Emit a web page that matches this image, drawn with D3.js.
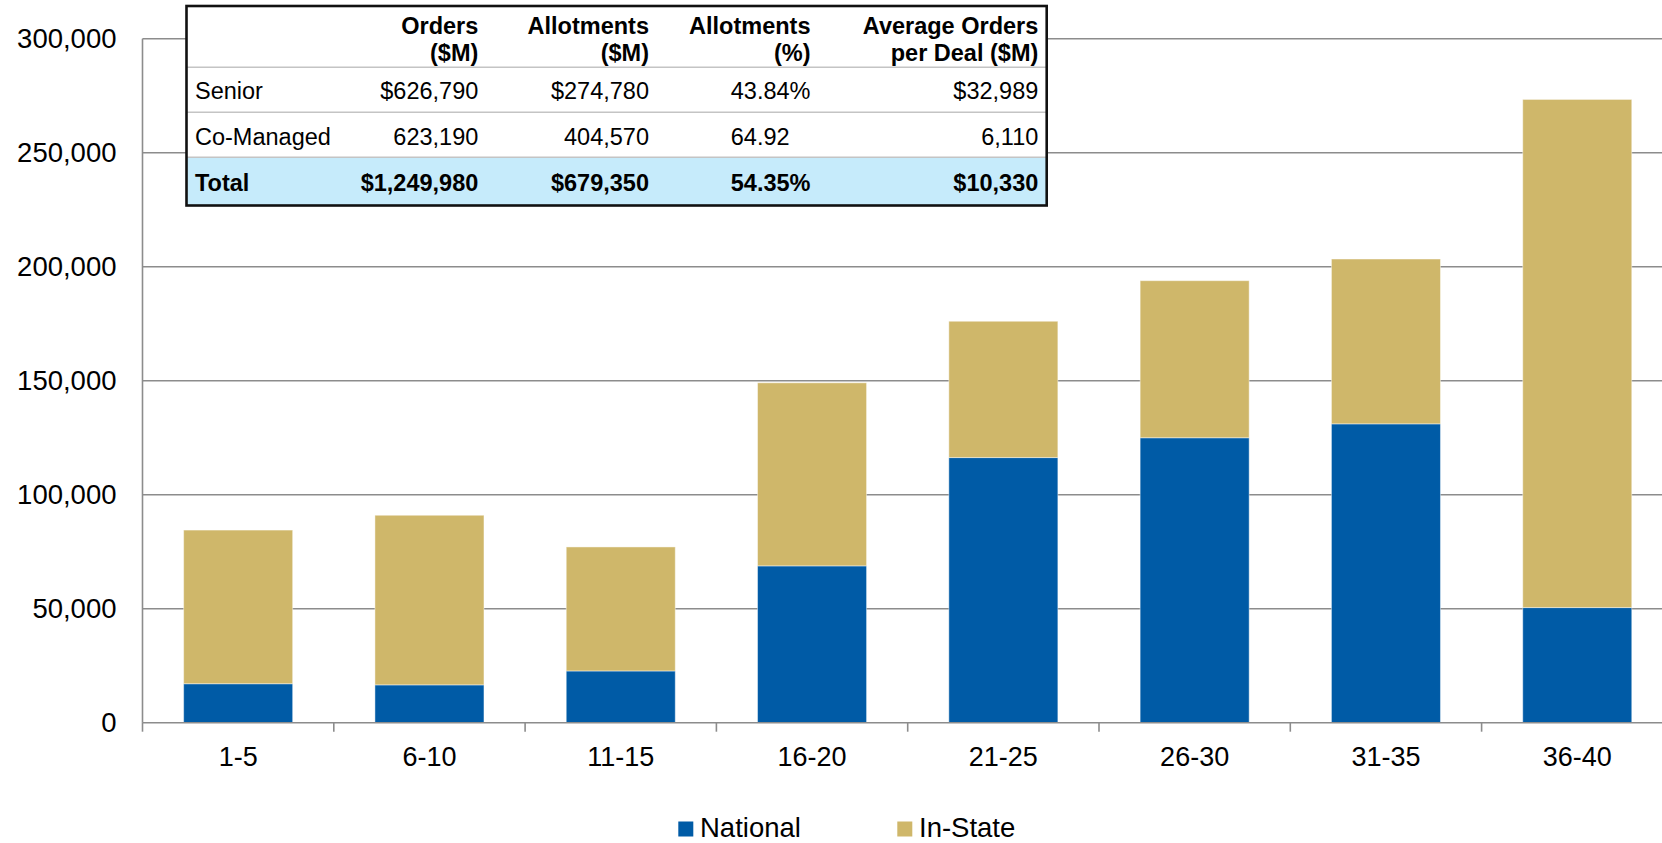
<!DOCTYPE html>
<html>
<head>
<meta charset="utf-8">
<script src="https://cdn.jsdelivr.net/npm/d3@7"></script>
<style>
  body { margin: 0; background: #fff; }
  svg { display: block; font-family: "Liberation Sans", Arial, Helvetica, sans-serif; }
</style>
</head>
<body>
<svg id="chart" width="1662" height="843"></svg>
<script>
// Deal-size buckets and stacked order amounts
const categories = ["1-5", "6-10", "11-15", "16-20", "21-25", "26-30", "31-35", "36-40"];
const national   = [17100, 16600, 22700, 68800, 116300, 125000, 131100, 50500];
const inState    = [67400, 74400, 54400, 80300, 59800, 68900, 72300, 222900];
const seriesNames = ["National", "In-State"];
const seriesColors = ["#005BA6", "#CFB76A"];
const yTicks = [0, 50000, 100000, 150000, 200000, 250000, 300000];

// Summary table
const tableHeader = [["Orders", "($M)"], ["Allotments", "($M)"], ["Allotments", "(%)"], ["Average Orders", "per Deal ($M)"]];
const tableRowLabels = ["Senior", "Co-Managed", "Total"];
const tableSenior = ["$626,790", "$274,780", "43.84%", "$32,989"];
const tableCoManaged = ["623,190", "404,570", "64.92", "6,110"];
const tableTotal = ["$1,249,980", "$679,350", "54.35%", "$10,330"];

(function draw() {
  const svg = d3.select("#chart");
  const plotLeft = 142.5, plotBottom = 722.7, plotTop = 38.8, plotRight = 1662;

  const x = d3.scaleBand().domain(categories).range([plotLeft, 1672.9]).paddingInner(0.43).paddingOuter(0.215);
  const y = d3.scaleLinear().domain([0, 300000]).range([plotBottom, plotTop]);

  const rows = categories.map((c, i) => ({ cat: c, National: national[i], "In-State": inState[i] }));
  const stacked = d3.stack().keys(seriesNames)(rows);

  // Gridlines
  svg.append("g").selectAll("line").data(yTicks.filter(d => d > 0)).join("line")
    .attr("x1", plotLeft).attr("x2", plotRight)
    .attr("y1", d => y(d)).attr("y2", d => y(d))
    .attr("stroke", "#8c8c8c").attr("stroke-width", 1.6);

  // Bars
  svg.append("g").selectAll("g").data(stacked).join("g")
    .attr("fill", (d, i) => seriesColors[i])
    .selectAll("rect").data(d => d).join("rect")
    .attr("x", d => x(d.data.cat))
    .attr("width", x.bandwidth())
    .attr("y", d => y(d[1]))
    .attr("height", d => y(d[0]) - y(d[1]))
    .attr("stroke", "rgba(255,255,255,0.45)")
    .attr("stroke-width", 1);

  // Y axis labels
  const yAxis = svg.append("g").attr("transform", `translate(${plotLeft},0)`)
    .call(d3.axisLeft(y).tickValues(yTicks).tickSize(0).tickPadding(26).tickFormat(d3.format(",")));
  yAxis.select(".domain").remove();
  yAxis.selectAll("text").attr("font-size", 27.5).attr("fill", "#000")
    .attr("font-family", "'Liberation Sans', Arial, sans-serif");

  // Axis lines
  svg.append("line").attr("x1", plotLeft).attr("x2", plotLeft).attr("y1", plotTop).attr("y2", plotBottom)
    .attr("stroke", "#8c8c8c").attr("stroke-width", 1.6);
  svg.append("line").attr("x1", plotLeft).attr("x2", plotRight).attr("y1", plotBottom).attr("y2", plotBottom)
    .attr("stroke", "#8c8c8c").attr("stroke-width", 1.6);

  // Category boundary ticks
  const step = x.step();
  const boundaries = d3.range(categories.length + 1).map(i => plotLeft + i * step);
  svg.append("g").selectAll("line").data(boundaries).join("line")
    .attr("x1", d => d).attr("x2", d => d).attr("y1", plotBottom).attr("y2", plotBottom + 9)
    .attr("stroke", "#8c8c8c").attr("stroke-width", 1.6);

  // X axis labels
  const xAxis = svg.append("g").attr("transform", `translate(0,${plotBottom})`)
    .call(d3.axisBottom(x).tickSize(0).tickPadding(24));
  xAxis.select(".domain").remove();
  xAxis.selectAll("text").attr("font-size", 27).attr("fill", "#000")
    .attr("font-family", "'Liberation Sans', Arial, sans-serif");

  // Legend
  const legendX = [678.3, 897.3];
  const legend = svg.append("g").selectAll("g").data(seriesNames).join("g")
    .attr("transform", (d, i) => `translate(${legendX[i]},821.5)`);
  legend.append("rect").attr("width", 15).attr("height", 15).attr("fill", (d, i) => seriesColors[i]);
  legend.append("text").attr("x", 21.7).attr("y", 15.2).attr("font-size", 27.5).attr("fill", "#000").text(d => d);

  // Summary table
  const tX = 186.5, tY = 6, tW = 860.2, tH = 199.5;
  const rowLines = [67.3, 112.3, 157.3];
  const colRight = [478.3, 649, 810.5, 1038.3];
  const table = svg.append("g");
  table.append("rect").attr("x", tX).attr("y", tY).attr("width", tW).attr("height", tH).attr("fill", "#fff");
  table.append("rect").attr("x", tX).attr("y", rowLines[2]).attr("width", tW).attr("height", tY + tH - rowLines[2])
    .attr("fill", "#C6EBFB");
  table.selectAll("line.row").data(rowLines).join("line").attr("class", "row")
    .attr("x1", tX).attr("x2", tX + tW).attr("y1", d => d).attr("y2", d => d)
    .attr("stroke", "#c4c4c4").attr("stroke-width", 1.5);
  table.append("rect").attr("x", tX).attr("y", tY).attr("width", tW).attr("height", tH)
    .attr("fill", "none").attr("stroke", "#111").attr("stroke-width", 2.6);

  const tFont = 23.5;
  // Header (two lines, right aligned, bold)
  tableHeader.forEach((lines, c) => {
    lines.forEach((t, j) => {
      table.append("text").attr("x", colRight[c]).attr("y", 34 + j * 26.7)
        .attr("text-anchor", "end").attr("font-size", tFont).attr("font-weight", "bold")
        .attr("fill", "#000").text(t);
    });
  });

  const bodyRows = [tableSenior, tableCoManaged, tableTotal];
  const baselines = [99.3, 145, 190.7];
  bodyRows.forEach((vals, r) => {
    const bold = r === 2 ? "bold" : "normal";
    table.append("text").attr("x", 195).attr("y", baselines[r]).attr("font-size", tFont)
      .attr("font-weight", bold).attr("fill", "#000").text(tableRowLabels[r]);
    vals.forEach((v, c) => {
      const txt = table.append("text").attr("x", colRight[c]).attr("y", baselines[r])
        .attr("text-anchor", "end").attr("font-size", tFont).attr("font-weight", bold)
        .attr("fill", "#000").text(v);
      // The co-managed percentage has no "%" sign and starts where the senior value starts
      if (r === 1 && c === 2) {
        const ref = table.append("text").attr("font-size", tFont).text(tableSenior[2]);
        const w = ref.node().getComputedTextLength();
        ref.remove();
        txt.attr("text-anchor", "start").attr("x", colRight[c] - w);
      }
    });
  });
})();
</script>
</body>
</html>
